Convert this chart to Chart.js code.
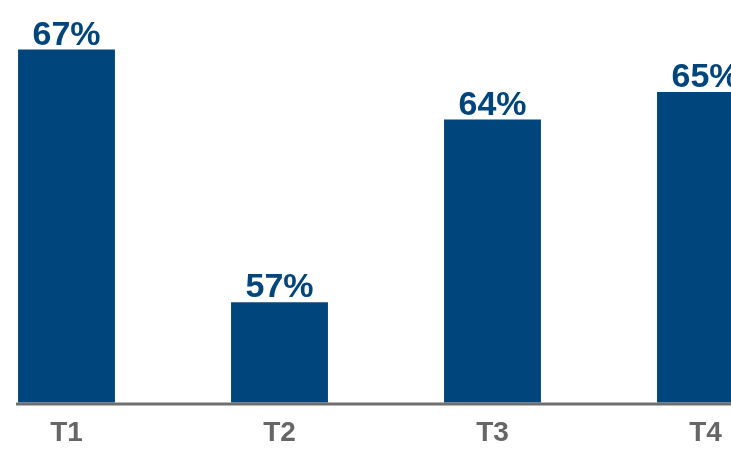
<!DOCTYPE html>
<html>
<head>
<meta charset="utf-8">
<script src="https://cdn.jsdelivr.net/npm/chart.js@4"></script>
<style>
    html, body { margin: 0; padding: 0; background: #fff; overflow: hidden; }
    #wrap { position: absolute; left: -40px; top: 0; width: 852px; height: 464px; }
</style>
</head>
<body>
<div id="wrap"><canvas id="chart"></canvas></div>
<script>
const categories = ["T1", "T2", "T3", "T4"];
const values = [67.1, 57.0, 64.3, 65.4];
const valueLabels = ["67%", "57%", "64%", "65%"];

const barBlue = "#00457C";

// value labels above each bar
const topLabels = {
    id: "topLabels",
    afterDatasetsDraw(chart) {
        const ctx = chart.ctx;
        const meta = chart.getDatasetMeta(0);
        ctx.save();
        ctx.font = "bold 34px 'Liberation Sans', Arial, sans-serif";
        ctx.fillStyle = barBlue;
        ctx.textAlign = "center";
        ctx.textBaseline = "alphabetic";
        meta.data.forEach((bar, i) => {
            ctx.fillText(valueLabels[i], bar.x, bar.y - 5);
        });
        ctx.restore();
    }
};

// grey base line, starting just left of the first bar
const baseLine = {
    id: "baseLine",
    afterDatasetsDraw(chart) {
        const ctx = chart.ctx;
        const first = chart.getDatasetMeta(0).data[0];
        const y = chart.chartArea.bottom + 1.5;
        ctx.save();
        ctx.strokeStyle = "#6E6E6E";
        ctx.lineWidth = 3;
        ctx.beginPath();
        ctx.moveTo(first.x - first.width / 2 - 2, y);
        ctx.lineTo(chart.width, y);
        ctx.stroke();
        ctx.restore();
    }
};

new Chart(document.getElementById("chart"), {
    type: "bar",
    data: {
        labels: categories,
        datasets: [{
            data: values,
            backgroundColor: barBlue,
            borderWidth: 0,
            barPercentage: 0.455,
            categoryPercentage: 1
        }]
    },
    options: {
        responsive: true,
        maintainAspectRatio: false,
        animation: false,
        layout: { padding: { top: 27, left: 0, right: 0, bottom: 0 } },
        plugins: {
            legend: { display: false },
            tooltip: { enabled: false }
        },
        scales: {
            x: {
                grid: { display: false, drawTicks: false },
                border: { display: false },
                ticks: {
                    padding: 14,
                    color: "#666666",
                    font: { family: "'Liberation Sans', Arial, sans-serif", size: 28, weight: "bold" }
                }
            },
            y: {
                display: false,
                min: 53,
                max: 68
            }
        }
    },
    plugins: [topLabels, baseLine]
});
</script>
</body>
</html>
